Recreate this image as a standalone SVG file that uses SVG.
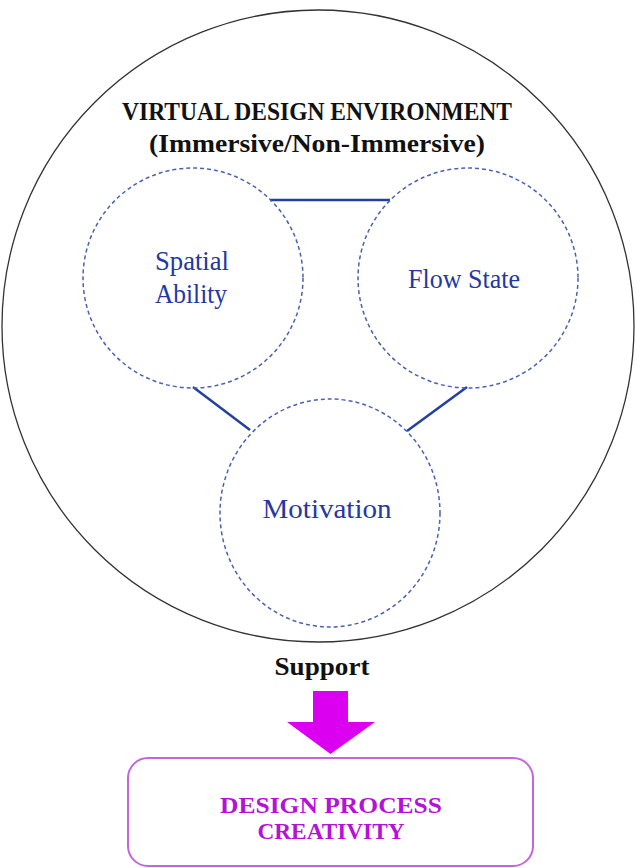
<svg xmlns="http://www.w3.org/2000/svg" width="637" height="868" viewBox="0 0 637 868">
<style>
.title{font-family:"Liberation Serif","Times New Roman",serif;font-weight:bold;font-size:26px;fill:#111;}
.lbl{font-family:"Liberation Serif","Times New Roman",serif;font-size:27px;fill:#2438a0;text-anchor:middle;}
.dash{fill:none;stroke:#4a62b0;stroke-width:1.5;stroke-dasharray:4 3;}
.conn{stroke:#2340a0;stroke-width:2.5;fill:none;}
.out{font-family:"Liberation Serif","Times New Roman",serif;font-weight:bold;font-size:24px;fill:#b412d8;}
</style>
<rect width="637" height="868" fill="#fff"/>
<g id="environment">
<circle cx="318" cy="326" r="316" fill="none" stroke="#333" stroke-width="1.3"/>
<text class="title" x="122" y="120" textLength="390" lengthAdjust="spacingAndGlyphs">VIRTUAL DESIGN ENVIRONMENT</text>
<text class="title" x="149" y="152" textLength="336" lengthAdjust="spacingAndGlyphs">(Immersive/Non-Immersive)</text>
</g>
<g id="connectors">
<line class="conn" x1="270" y1="200" x2="390" y2="200"/>
<line class="conn" x1="193" y1="387" x2="250" y2="430"/>
<line class="conn" x1="467" y1="387" x2="407" y2="431"/>
</g>
<g id="spatial">
<circle class="dash" cx="193" cy="278" r="110"/>
<text class="lbl" x="192" y="270" textLength="74" lengthAdjust="spacingAndGlyphs">Spatial</text>
<text class="lbl" x="191" y="303" textLength="72" lengthAdjust="spacingAndGlyphs">Ability</text>
</g>
<g id="flow">
<circle class="dash" cx="468" cy="278" r="110"/>
<text class="lbl" x="464" y="288" textLength="112" lengthAdjust="spacingAndGlyphs">Flow State</text>
</g>
<g id="motivation">
<ellipse class="dash" cx="330" cy="513" rx="110" ry="114"/>
<text class="lbl" x="327" y="518" textLength="129" lengthAdjust="spacingAndGlyphs">Motivation</text>
</g>
<g id="support">
<text x="322" y="675" font-family="Liberation Serif, Times New Roman, serif" font-weight="bold" font-size="25" fill="#111" text-anchor="middle" textLength="95" lengthAdjust="spacingAndGlyphs">Support</text>
<polygon points="313,691 348,691 348,722 375,722 330.5,754 287,722 313,722" fill="#dc00f0"/>
</g>
<g id="creativity">
<rect x="128" y="758" width="405" height="108" rx="20" fill="none" stroke="#c266dc" stroke-width="2"/>
<text class="out" x="331" y="813" text-anchor="middle" textLength="222" lengthAdjust="spacingAndGlyphs">DESIGN PROCESS</text>
<text class="out" x="331" y="839" text-anchor="middle" textLength="147" lengthAdjust="spacingAndGlyphs">CREATIVITY</text>
</g>
</svg>
